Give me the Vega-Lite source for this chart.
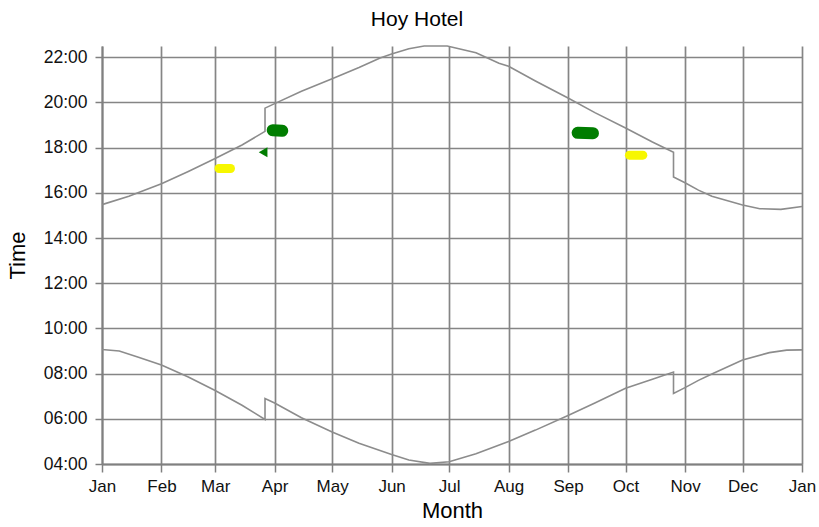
{
  "$schema": "https://vega.github.io/schema/vega-lite/v6.json",
  "width": 700,
  "height": 418,
  "autosize": "none",
  "padding": {"left": 102, "top": 46, "right": 17, "bottom": 63},
  "background": "white",
  "title": {"text": "Hoy Hotel", "font": "Liberation Sans", "fontSize": 21, "fontWeight": "normal", "color": "#000", "anchor": "middle", "frame": "bounds", "baseline": "alphabetic", "offset": -4, "dx": 6},
  "config": {"view": {"stroke": null}},
  "datasets": {
    "sun": [
      {"series": "set", "o": 1, "date": "2023-01-01", "t": 15.48},
      {"series": "set", "o": 2, "date": "2023-01-15", "t": 15.85},
      {"series": "set", "o": 3, "date": "2023-02-01", "t": 16.4},
      {"series": "set", "o": 4, "date": "2023-02-15", "t": 16.95},
      {"series": "set", "o": 5, "date": "2023-03-01", "t": 17.52},
      {"series": "set", "o": 6, "date": "2023-03-15", "t": 18.12},
      {"series": "set", "o": 7, "date": "2023-03-27", "t": 18.72},
      {"series": "set", "o": 8, "date": "2023-03-27", "t": 19.75},
      {"series": "set", "o": 9, "date": "2023-04-01", "t": 19.95},
      {"series": "set", "o": 10, "date": "2023-04-15", "t": 20.5},
      {"series": "set", "o": 11, "date": "2023-05-01", "t": 21.05},
      {"series": "set", "o": 12, "date": "2023-05-15", "t": 21.55},
      {"series": "set", "o": 13, "date": "2023-05-26", "t": 21.97},
      {"series": "set", "o": 14, "date": "2023-06-01", "t": 22.15},
      {"series": "set", "o": 15, "date": "2023-06-10", "t": 22.38},
      {"series": "set", "o": 16, "date": "2023-06-18", "t": 22.5},
      {"series": "set", "o": 17, "date": "2023-06-30", "t": 22.5},
      {"series": "set", "o": 18, "date": "2023-07-15", "t": 22.2},
      {"series": "set", "o": 19, "date": "2023-07-27", "t": 21.74},
      {"series": "set", "o": 20, "date": "2023-08-01", "t": 21.6},
      {"series": "set", "o": 21, "date": "2023-08-15", "t": 20.95},
      {"series": "set", "o": 22, "date": "2023-09-01", "t": 20.2},
      {"series": "set", "o": 23, "date": "2023-09-15", "t": 19.55},
      {"series": "set", "o": 24, "date": "2023-10-01", "t": 18.87},
      {"series": "set", "o": 25, "date": "2023-10-15", "t": 18.25},
      {"series": "set", "o": 26, "date": "2023-10-26", "t": 17.8},
      {"series": "set", "o": 27, "date": "2023-10-26", "t": 16.7},
      {"series": "set", "o": 28, "date": "2023-11-01", "t": 16.45},
      {"series": "set", "o": 29, "date": "2023-11-08", "t": 16.12},
      {"series": "set", "o": 30, "date": "2023-11-15", "t": 15.85},
      {"series": "set", "o": 31, "date": "2023-12-01", "t": 15.46},
      {"series": "set", "o": 32, "date": "2023-12-10", "t": 15.3},
      {"series": "set", "o": 33, "date": "2023-12-21", "t": 15.27},
      {"series": "set", "o": 34, "date": "2024-01-01", "t": 15.4},
      {"series": "rise", "o": 1, "date": "2023-01-01", "t": 9.07},
      {"series": "rise", "o": 2, "date": "2023-01-10", "t": 9.0},
      {"series": "rise", "o": 3, "date": "2023-01-20", "t": 8.72},
      {"series": "rise", "o": 4, "date": "2023-02-01", "t": 8.38},
      {"series": "rise", "o": 5, "date": "2023-02-15", "t": 7.85},
      {"series": "rise", "o": 6, "date": "2023-03-01", "t": 7.25},
      {"series": "rise", "o": 7, "date": "2023-03-15", "t": 6.6},
      {"series": "rise", "o": 8, "date": "2023-03-27", "t": 5.97},
      {"series": "rise", "o": 9, "date": "2023-03-27", "t": 6.9},
      {"series": "rise", "o": 10, "date": "2023-04-01", "t": 6.7},
      {"series": "rise", "o": 11, "date": "2023-04-15", "t": 6.05},
      {"series": "rise", "o": 12, "date": "2023-05-01", "t": 5.42},
      {"series": "rise", "o": 13, "date": "2023-05-15", "t": 4.92},
      {"series": "rise", "o": 14, "date": "2023-06-01", "t": 4.42},
      {"series": "rise", "o": 15, "date": "2023-06-10", "t": 4.18},
      {"series": "rise", "o": 16, "date": "2023-06-21", "t": 4.03},
      {"series": "rise", "o": 17, "date": "2023-07-01", "t": 4.1},
      {"series": "rise", "o": 18, "date": "2023-07-15", "t": 4.45},
      {"series": "rise", "o": 19, "date": "2023-08-01", "t": 5.0},
      {"series": "rise", "o": 20, "date": "2023-08-15", "t": 5.5},
      {"series": "rise", "o": 21, "date": "2023-09-01", "t": 6.15},
      {"series": "rise", "o": 22, "date": "2023-09-15", "t": 6.7},
      {"series": "rise", "o": 23, "date": "2023-10-01", "t": 7.35},
      {"series": "rise", "o": 24, "date": "2023-10-15", "t": 7.75},
      {"series": "rise", "o": 25, "date": "2023-10-26", "t": 8.07},
      {"series": "rise", "o": 26, "date": "2023-10-26", "t": 7.12},
      {"series": "rise", "o": 27, "date": "2023-11-01", "t": 7.38},
      {"series": "rise", "o": 28, "date": "2023-11-08", "t": 7.7},
      {"series": "rise", "o": 29, "date": "2023-11-15", "t": 7.98},
      {"series": "rise", "o": 30, "date": "2023-12-01", "t": 8.6},
      {"series": "rise", "o": 31, "date": "2023-12-15", "t": 8.93},
      {"series": "rise", "o": 32, "date": "2023-12-24", "t": 9.04},
      {"series": "rise", "o": 33, "date": "2024-01-01", "t": 9.05}
    ],
    "blobs": [
      {"blob": "y1", "colour": "yellow", "date": "2023-03-03", "t": 17.08},
      {"blob": "y1", "colour": "yellow", "date": "2023-03-09", "t": 17.08},
      {"blob": "g1", "colour": "green", "date": "2023-03-31", "t": 18.77},
      {"blob": "g1", "colour": "green", "date": "2023-04-05", "t": 18.75},
      {"blob": "g2", "colour": "green", "date": "2023-09-06", "t": 18.66},
      {"blob": "g2", "colour": "green", "date": "2023-09-14", "t": 18.64},
      {"blob": "y2", "colour": "yellow", "date": "2023-10-03", "t": 17.67},
      {"blob": "y2", "colour": "yellow", "date": "2023-10-10", "t": 17.67}
    ],
    "small": [
      {"colour": "green", "date": "2023-03-26", "t": 17.8}
    ]
  },
  "layer": [
    {
      "data": {"name": "sun"},
      "mark": {"type": "line", "color": "#8c8c8c", "strokeWidth": 1.6},
      "encoding": {
        "x": {
          "field": "date", "type": "temporal",
          "scale": {"type": "utc", "domain": [{"year": 2023, "month": 1, "date": 1, "utc": true}, {"year": 2024, "month": 1, "date": 1, "utc": true}], "nice": false},
          "axis": {
            "title": "Month",
            "values": [
              {"year": 2023, "month": 1, "date": 1, "utc": true}, {"year": 2023, "month": 1, "date": 8, "utc": true}, {"year": 2023, "month": 1, "date": 16, "utc": true}, {"year": 2023, "month": 1, "date": 23, "utc": true},
              {"year": 2023, "month": 2, "date": 1, "utc": true}, {"year": 2023, "month": 2, "date": 8, "utc": true}, {"year": 2023, "month": 2, "date": 15, "utc": true}, {"year": 2023, "month": 2, "date": 22, "utc": true},
              {"year": 2023, "month": 3, "date": 1, "utc": true}, {"year": 2023, "month": 3, "date": 8, "utc": true}, {"year": 2023, "month": 3, "date": 16, "utc": true}, {"year": 2023, "month": 3, "date": 23, "utc": true},
              {"year": 2023, "month": 4, "date": 1, "utc": true}, {"year": 2023, "month": 4, "date": 8, "utc": true}, {"year": 2023, "month": 4, "date": 16, "utc": true}, {"year": 2023, "month": 4, "date": 23, "utc": true},
              {"year": 2023, "month": 5, "date": 1, "utc": true}, {"year": 2023, "month": 5, "date": 8, "utc": true}, {"year": 2023, "month": 5, "date": 16, "utc": true}, {"year": 2023, "month": 5, "date": 23, "utc": true},
              {"year": 2023, "month": 6, "date": 1, "utc": true}, {"year": 2023, "month": 6, "date": 8, "utc": true}, {"year": 2023, "month": 6, "date": 16, "utc": true}, {"year": 2023, "month": 6, "date": 23, "utc": true},
              {"year": 2023, "month": 7, "date": 1, "utc": true}, {"year": 2023, "month": 7, "date": 8, "utc": true}, {"year": 2023, "month": 7, "date": 16, "utc": true}, {"year": 2023, "month": 7, "date": 23, "utc": true},
              {"year": 2023, "month": 8, "date": 1, "utc": true}, {"year": 2023, "month": 8, "date": 8, "utc": true}, {"year": 2023, "month": 8, "date": 16, "utc": true}, {"year": 2023, "month": 8, "date": 23, "utc": true},
              {"year": 2023, "month": 9, "date": 1, "utc": true}, {"year": 2023, "month": 9, "date": 8, "utc": true}, {"year": 2023, "month": 9, "date": 16, "utc": true}, {"year": 2023, "month": 9, "date": 23, "utc": true},
              {"year": 2023, "month": 10, "date": 1, "utc": true}, {"year": 2023, "month": 10, "date": 8, "utc": true}, {"year": 2023, "month": 10, "date": 16, "utc": true}, {"year": 2023, "month": 10, "date": 23, "utc": true},
              {"year": 2023, "month": 11, "date": 1, "utc": true}, {"year": 2023, "month": 11, "date": 8, "utc": true}, {"year": 2023, "month": 11, "date": 16, "utc": true}, {"year": 2023, "month": 11, "date": 23, "utc": true},
              {"year": 2023, "month": 12, "date": 1, "utc": true}, {"year": 2023, "month": 12, "date": 8, "utc": true}, {"year": 2023, "month": 12, "date": 16, "utc": true}, {"year": 2023, "month": 12, "date": 23, "utc": true},
              {"year": 2024, "month": 1, "date": 1, "utc": true}
            ],
            "labelExpr": "utcdate(datum.value) == 1 ? utcFormat(datum.value, '%b') : ''",
            "labelFont": "Liberation Sans", "labelFontSize": 17, "labelColor": "#111", "labelPadding": 6, "labelOverlap": false, "labelFlush": false,
            "grid": true,
            "gridColor": "#858585", "gridWidth": 1.7,
            "gridOpacity": {"condition": {"test": "utcdate(datum.value) == 1", "value": 1}, "value": 0},
            "tickColor": "#808080", "tickWidth": 1.5,
            "tickSize": {"condition": {"test": "utcdate(datum.value) == 1", "value": 8}, "value": 5},
            "domainColor": "#808080", "domainWidth": 2,
            "titleFont": "Liberation Sans", "titleFontSize": 22, "titleFontWeight": "normal", "titleColor": "#000", "titlePadding": 6
          }
        },
        "y": {
          "field": "t", "type": "quantitative",
          "scale": {"domain": [4, 22.5], "nice": false, "zero": false},
          "axis": {
            "title": "Time",
            "values": [4, 4.5, 5, 5.5, 6, 6.5, 7, 7.5, 8, 8.5, 9, 9.5, 10, 10.5, 11, 11.5, 12, 12.5, 13, 13.5, 14, 14.5, 15, 15.5, 16, 16.5, 17, 17.5, 18, 18.5, 19, 19.5, 20, 20.5, 21, 21.5, 22, 22.5],
            "labelExpr": "datum.value % 2 == 0 ? (datum.value < 10 ? '0' : '') + datum.value + ':00' : ''",
            "labelFont": "Liberation Sans", "labelFontSize": 17.5, "labelColor": "#111", "labelPadding": 8, "labelOverlap": false, "labelFlush": false,
            "grid": true,
            "gridColor": "#858585", "gridWidth": 1.7,
            "gridOpacity": {"condition": {"test": "datum.value % 2 == 0", "value": 1}, "value": 0},
            "tickColor": "#808080", "tickWidth": 1.5,
            "tickSize": {"condition": {"test": "datum.value % 2 == 0", "value": 7}, "value": 5},
            "domainColor": "#808080", "domainWidth": 2,
            "titleFont": "Liberation Sans", "titleFontSize": 22, "titleFontWeight": "normal", "titleColor": "#000", "titlePadding": 14
          }
        },
        "detail": {"field": "series"},
        "order": {"field": "o", "type": "quantitative"}
      }
    },
    {
      "data": {"name": "blobs"},
      "mark": {"type": "line", "strokeCap": "round"},
      "encoding": {
        "x": {"field": "date", "type": "temporal"},
        "y": {"field": "t", "type": "quantitative"},
        "detail": {"field": "blob"},
        "strokeWidth": {"field": "colour", "type": "nominal", "scale": {"domain": ["green", "yellow"], "range": [12, 9]}, "legend": null},
        "color": {"field": "colour", "type": "nominal", "scale": {"domain": ["green", "yellow"], "range": ["#007d00", "#f7f700"]}, "legend": null}
      }
    },
    {
      "data": {"name": "small"},
      "mark": {"type": "point", "shape": "triangle-left", "filled": true, "size": 100, "opacity": 1},
      "encoding": {
        "x": {"field": "date", "type": "temporal"},
        "y": {"field": "t", "type": "quantitative"},
        "color": {"field": "colour", "type": "nominal", "scale": {"domain": ["green", "yellow"], "range": ["#007d00", "#f7f700"]}, "legend": null}
      }
    }
  ]
}
